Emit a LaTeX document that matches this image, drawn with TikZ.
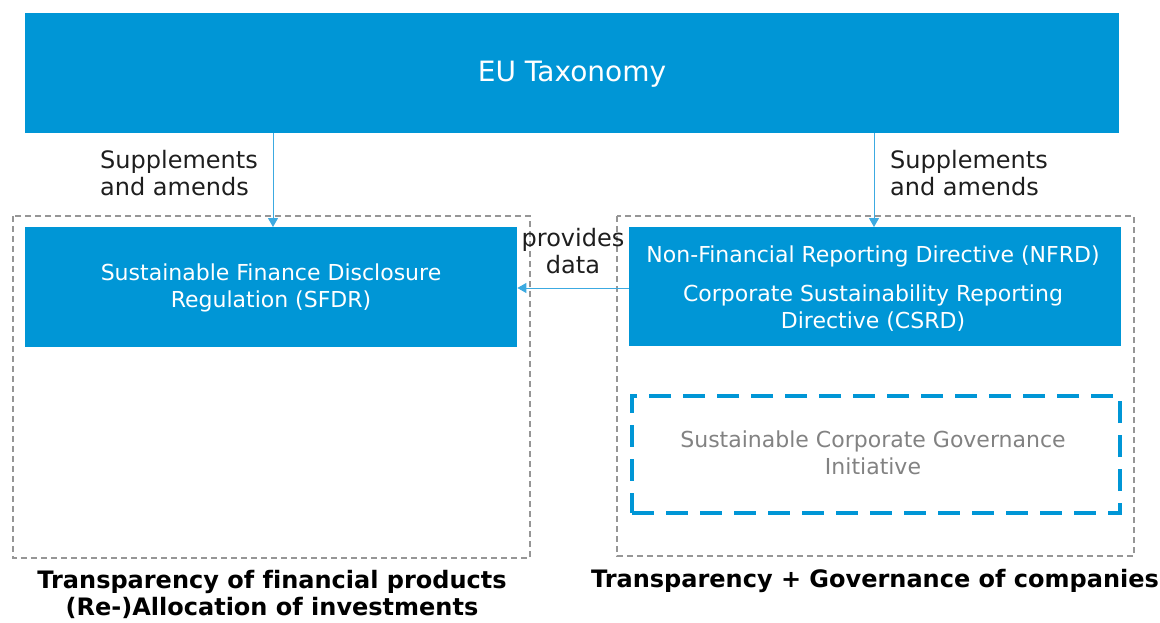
\documentclass[tikz,border=0pt]{standalone}
\usepackage{fontspec}
\setmainfont[Ligatures=NoCommon]{DejaVu Sans}
\usetikzlibrary{arrows.meta}
\definecolor{eublue}{RGB}{0,150,214}
\definecolor{arrblue}{RGB}{60,170,225}
\definecolor{dgray}{RGB}{150,150,150}
\definecolor{tgray}{RGB}{130,130,130}
\definecolor{ink}{RGB}{30,30,30}
\begin{document}
\begin{tikzpicture}[x=1pt,y=-1pt,
  bluebox/.style={fill=eublue,draw=none},
  outerbox/.style={draw=dgray,line width=1.3pt,dash pattern=on 6pt off 4pt},
  govbox/.style={draw=eublue,line width=4pt,dash pattern=on 22pt off 12pt},
  conn/.style={draw=arrblue,line width=1pt,-{Triangle[length=9pt,width=10pt]}},
  lbl/.style={text=ink,font=\fontsize{24}{27}\selectfont,align=left,inner sep=0pt},
  wtxt/.style={text=white,font=\fontsize{22}{27}\selectfont,align=center,inner sep=0pt},
  btxt/.style={text=black,font=\fontsize{24}{27}\selectfont\bfseries,align=center,inner sep=0pt}]
\useasboundingbox (0,0) rectangle (1160,623);
% outer dashed groups
\draw[outerbox] (13,216) rectangle (530,558);
\draw[outerbox] (617,216) rectangle (1134,556);
% EU Taxonomy
\node[bluebox,minimum width=1094pt,minimum height=120pt,anchor=north west,inner sep=0pt] (eu) at (25,13) {};
\node[text=white,font=\fontsize{28}{32}\selectfont,inner sep=0pt] (eut) at (572,74) {EU Taxonomy};
% SFDR
\node[bluebox,minimum width=492pt,minimum height=120pt,anchor=north west,inner sep=0pt] (sfdr) at (25,227) {};
\node[wtxt] (sfdrt) at (271,288) {Sustainable Finance Disclosure\\Regulation (SFDR)};
% NFRD / CSRD
\node[bluebox,minimum width=492pt,minimum height=119pt,anchor=north west,inner sep=0pt] (nfrd) at (629,227) {};
\node[wtxt] (nfrdt) at (873,256) {Non-Financial Reporting Directive (NFRD)};
\node[wtxt] (csrdt) at (873,308) {Corporate Sustainability Reporting\\Directive (CSRD)};
% governance
\node[govbox,minimum width=488pt,minimum height=117pt,anchor=north west,inner sep=0pt] (gov) at (630,394) {};
\node[text=tgray,font=\fontsize{22}{27}\selectfont,align=center,inner sep=0pt] (govt) at (873,453) {Sustainable Corporate Governance\\Initiative};
% connectors
\coordinate (a1) at (273,133);
\coordinate (a2) at (874,133);
\draw[conn] (a1) -- (a1 |- sfdr.north);
\draw[conn] (a2) -- (a2 |- nfrd.north);
\coordinate (h1) at (629,288);
\draw[conn] (h1) -- (h1 -| sfdr.east);
% labels
\node[lbl,anchor=west] (s1) at (100,173) {Supplements\\and amends};
\node[lbl,anchor=west] (s2) at (890,173) {Supplements\\and amends};
\node[lbl,align=center] (pd) at (573,251) {provides\\data};
% bottom
\node[btxt] (b1) at (272,594) {Transparency of financial products\\(Re-)Allocation of investments};
\node[btxt] (b2) at (875,581) {Transparency + Governance of companies};
\end{tikzpicture}
\end{document}
